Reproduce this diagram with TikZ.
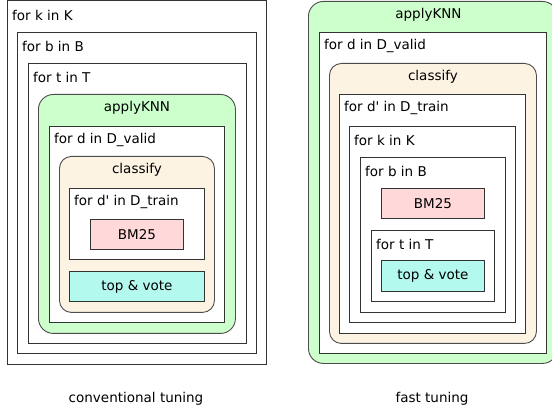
\documentclass[tikz,border=0pt]{standalone}
\usepackage{fontspec}
\setmainfont{DejaVu Sans}
\usepackage{xcolor}
\usepackage{tikz}
\usetikzlibrary{positioning}

\definecolor{boxline}{HTML}{333333}
\definecolor{knngreen}{HTML}{CCFFCC}
\definecolor{clsorange}{HTML}{FDF3E3}
\definecolor{bmpink}{HTML}{FFD9D9}
\definecolor{votecyan}{HTML}{B3F9EE}

\begin{document}
\begin{tikzpicture}[x=1pt, y=-1pt,
    every node/.style={font=\fontsize{13.5}{16}\selectfont, inner sep=0pt, text=black},
    loopbox/.style={draw=boxline, line width=0.9pt, fill=white, anchor=north west},
    funcbox/.style={loopbox, draw=black!70, rounded corners=15pt},
    leafbox/.style={draw=boxline, line width=0.9pt, anchor=north west},
    looplabel/.style={anchor=west, xshift=5pt, yshift=-14pt},
    funclabel/.style={anchor=center, yshift=-14pt}]
    \useasboundingbox (0,0) rectangle (552,414);

    % conventional tuning
    \node[loopbox, minimum width=259pt, minimum height=364pt] (kL) at (7,0) {};
    \node[looplabel] (kLtxt) at ([yshift=-1pt]kL.north west) {for k in K};
    \node[loopbox, minimum width=239pt, minimum height=321pt] (bL) at (17,32) {};
    \node[looplabel] (bLtxt) at (bL.north west) {for b in B};
    \node[loopbox, minimum width=218pt, minimum height=280pt] (tL) at (28,63) {};
    \node[looplabel] (tLtxt) at (tL.north west) {for t in T};
    \node[funcbox, fill=knngreen, minimum width=197pt, minimum height=239pt] (knnL) at (38,94) {};
    \node[funclabel] (knnLtxt) at (knnL.north) {applyKNN};
    \node[loopbox, minimum width=175pt, minimum height=196pt] (dvL) at (49,126) {};
    \node[looplabel] (dvLtxt) at (dvL.north west) {for d in D\_valid};
    \node[funcbox, fill=clsorange, rounded corners=12pt, minimum width=155pt, minimum height=156pt] (clsL) at (59,156) {};
    \node[funclabel] (clsLtxt) at (clsL.north) {classify};
    \node[loopbox, minimum width=135pt, minimum height=71pt] (dtL) at (69,188) {};
    \node[looplabel] (dtLtxt) at (dtL.north west) {for d\textquotesingle{} in D\_train};
    \node[leafbox, fill=bmpink, minimum width=93pt, minimum height=30pt] (bmL) at (90,219) {BM25};
    \node[leafbox, fill=votecyan, minimum width=135pt, minimum height=30pt] (tvL) at (69,271) {top \& vote};
    \node (convtxt) at (136,399) {conventional tuning};

    % fast tuning
    \node[funcbox, fill=knngreen, minimum width=249pt, minimum height=362pt] (knnR) at (308,1) {};
    \node[funclabel] (knnRtxt) at ([xshift=-4.5pt]knnR.north) {applyKNN};
    \node[loopbox, minimum width=227pt, minimum height=321pt] (dvR) at (319,32) {};
    \node[looplabel] (dvRtxt) at (dvR.north west) {for d in D\_valid};
    \node[funcbox, fill=clsorange, rounded corners=12pt, minimum width=207pt, minimum height=280pt] (clsR) at (329,63) {};
    \node[funclabel] (clsRtxt) at (clsR.north) {classify};
    \node[loopbox, minimum width=186pt, minimum height=239pt] (dtR) at (339,94) {};
    \node[looplabel] (dtRtxt) at (dtR.north west) {for d\textquotesingle{} in D\_train};
    \node[loopbox, minimum width=166pt, minimum height=196pt] (kR) at (349,126) {};
    \node[looplabel] (kRtxt) at (kR.north west) {for k in K};
    \node[loopbox, minimum width=145pt, minimum height=155pt] (bR) at (360,157) {};
    \node[looplabel] (bRtxt) at (bR.north west) {for b in B};
    \node[leafbox, fill=bmpink, minimum width=103pt, minimum height=30pt] (bmR) at (381,188) {BM25};
    \node[loopbox, minimum width=123pt, minimum height=71pt] (tR) at (371,230) {};
    \node[looplabel] (tRtxt) at (tR.north west) {for t in T};
    \node[leafbox, fill=votecyan, minimum width=103pt, minimum height=31pt] (tvR) at (381,260) {top \& vote};
    \node (fasttxt) at (432,399) {fast tuning};
\end{tikzpicture}
\end{document}
